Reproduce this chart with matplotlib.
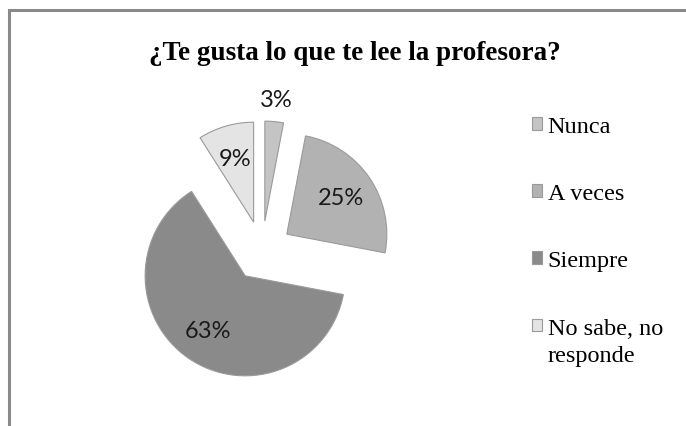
import matplotlib.pyplot as plt
from matplotlib.patches import Rectangle

# datos de la encuesta
categorias = ["Nunca", "A veces", "Siempre", "No sabe, no"]
segunda_linea = "responde"  # resto de la ultima etiqueta
porcentajes = [3, 25, 63, 9]
colores = ["#c4c4c4", "#b2b2b2", "#8a8a8a", "#e4e4e4"]

titulo = "¿Te gusta lo que te lee la profesora?"

fig = plt.figure(figsize=(6.86, 4.27), dpi=100)
fig.patch.set_facecolor("white")

# borde del area del grafico (solo se ve arriba e izquierda)
fig.add_artist(Rectangle((9 / 686, -0.1), 2.0, 1 - 10.5 / 427 + 0.1,
                         transform=fig.transFigure, fill=False,
                         edgecolor="#8a8a8a", linewidth=2.2))

ax = fig.add_axes([0, 0, 1, 1])
wedges, textos, pcts = ax.pie(
    porcentajes, colors=colores, startangle=90, counterclock=False,
    explode=[0.3] * 4, autopct="%d%%", pctdistance=0.66,
    wedgeprops=dict(edgecolor="#9a9a9a", linewidth=0.8),
    textprops=dict(family="Lato", fontsize=17, color="#1a1a1a"))

# la etiqueta del 3% va por fuera de la porcion
cx, cy = wedges[0].center
px, py = pcts[0].get_position()
pcts[0].set_position((cx + (px - cx) * 1.22 / 0.66, cy + (py - cy) * 1.22 / 0.66))

# escala 1 unidad = 100 px, centro en (262, 252)
ax.set_xlim(-2.62, 4.24)
ax.set_ylim(-1.75, 2.52)
ax.set_aspect("equal")
ax.axis("off")

fig.text(355 / 686, 1 - 53 / 427, titulo, ha="center", va="center",
         family="Liberation Serif", fontweight="bold", fontsize=19.5)

fuente_leyenda = dict(family="Liberation Serif", size=17.5)
leg = fig.legend(wedges, categorias, loc="upper left",
                 bbox_to_anchor=(532 / 686, 1 - 117 / 427),
                 frameon=False, borderpad=0, borderaxespad=0,
                 handlelength=0.42, handleheight=0.42, handletextpad=0.22,
                 labelspacing=1.9, prop=fuente_leyenda)

# segunda linea de "No sabe, no responde", debajo del texto de la leyenda
fig.canvas.draw()
bb = leg.get_texts()[3].get_window_extent()
fig.text(bb.x0 / 686, (bb.y0 - 27) / 427, segunda_linea, ha="left", va="bottom",
         family="Liberation Serif", fontsize=17.5)

fig.savefig("out.png", dpi=100)
